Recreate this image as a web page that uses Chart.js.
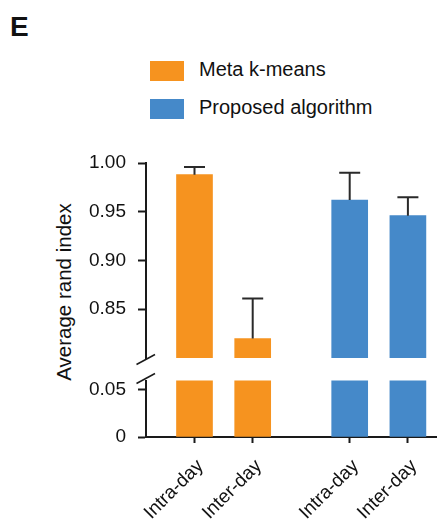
<!DOCTYPE html>
<html>
<head>
<meta charset="utf-8">
<script src="https://cdn.jsdelivr.net/npm/chart.js@4"></script>
<style>
  html, body { margin: 0; padding: 0; background: #fff; }
  #wrap { position: relative; width: 437px; height: 523px; overflow: hidden; font-family: "Liberation Sans", Arial, sans-serif; color: #111; }
  #wrap canvas { position: absolute; left: 0; top: 0; }
  .panel { position: absolute; left: 10px; top: 13px; font-size: 28px; line-height: 28px; font-weight: bold; }
  .legend-item { position: absolute; left: 150px; height: 20px; }
  .legend-item .sw { position: absolute; left: 0; width: 34px; height: 20px; }
  .legend-item .lbl { position: absolute; left: 49px; white-space: nowrap; font-size: 20px; line-height: 20px; }
  .ytitle { position: absolute; width: 240px; left: -56px; top: 281px; text-align: center; font-size: 20.5px; line-height: 22px; transform: rotate(-90deg); white-space: nowrap; }
</style>
</head>
<body>
<div id="wrap">
  <div class="panel">E</div>
  <div id="legend"></div>
  <div class="ytitle">Average rand index</div>
  <canvas id="top" width="437" height="523"></canvas>
  <canvas id="bottom" width="437" height="523"></canvas>
</div>
<script>
// data
const groups = ['Meta k-means', 'Proposed algorithm'];
const conditions = ['Intra-day', 'Inter-day'];
const metaMeans = [0.988, 0.820];
const metaErr = [0.008, 0.041];
const propMeans = [0.962, 0.946];
const propErr = [0.028, 0.019];
const topTicks = [0.85, 0.90, 0.95, 1.00];
const bottomTicks = [0, 0.05];

// layout
const colors = ['#F6931F', '#4589C9'];
const GROUP_STEP = 8, BAR_STEP = 3;
const AXIS_COLOR = '#1a1a1a';
const FONT = '"Liberation Sans", Arial, sans-serif';

const slot = (g, i) => g * GROUP_STEP + i * BAR_STEP;
const means = [metaMeans, propMeans];
const errs = [metaErr, propErr];
const xTicks = [];
groups.forEach((_, g) => conditions.forEach((c, i) => xTicks.push({ value: slot(g, i), label: c })));

// legend
document.getElementById('legend').innerHTML = groups.map((name, g) => `
  <div class="legend-item" style="top:${61 + g * 38}px">
    <div class="sw" style="background:${colors[g]}"></div>
    <div class="lbl" style="top:-2px">${name}</div>
  </div>`).join('');

function makeDatasets() {
  return groups.map((name, g) => ({
    label: name,
    data: means[g].map((v, i) => ({ x: slot(g, i), y: v })),
    backgroundColor: colors[g],
    borderWidth: 0,
    barThickness: 36,
  }));
}

const errorBars = {
  id: 'errorBars',
  afterDatasetsDraw(chart) {
    const ctx = chart.ctx;
    const y = chart.scales.y;
    ctx.save();
    ctx.strokeStyle = '#2a2a2a';
    ctx.lineWidth = 2;
    chart.data.datasets.forEach((ds, g) => {
      chart.getDatasetMeta(g).data.forEach((bar, i) => {
        const yTop = y.getPixelForValue(means[g][i] + errs[g][i]);
        ctx.beginPath();
        ctx.moveTo(bar.x, bar.y);
        ctx.lineTo(bar.x, yTop);
        ctx.moveTo(bar.x - 10.5, yTop);
        ctx.lineTo(bar.x + 10.5, yTop);
        ctx.stroke();
      });
    });
    ctx.restore();
  }
};

function breakMark(where) {
  return {
    id: 'breakMark',
    afterDraw(chart) {
      const { left, top, bottom } = chart.chartArea;
      const cy = where === 'bottom' ? bottom + 1.5 : top - 2;
      const ctx = chart.ctx;
      ctx.save();
      ctx.strokeStyle = AXIS_COLOR;
      ctx.lineWidth = 1.5;
      ctx.beginPath();
      ctx.moveTo(left - 9.5, cy + 5);
      ctx.lineTo(left + 9, cy - 5);
      ctx.stroke();
      ctx.restore();
    }
  };
}

function yScale(min, max, ticks, fmt) {
  return {
    type: 'linear',
    min, max,
    afterBuildTicks: s => { s.ticks = ticks.map(v => ({ value: v })); },
    afterFit: s => { s.width = 146; s.paddingTop = 0; s.paddingBottom = 0; },
    border: { display: true, color: AXIS_COLOR, width: 2 },
    grid: { drawOnChartArea: false, drawTicks: true, tickLength: 8, tickWidth: 2, tickColor: AXIS_COLOR },
    ticks: { color: '#111', padding: 12, font: { family: FONT, size: 19 }, callback: fmt },
  };
}

function xScale(show) {
  return {
    type: 'linear',
    min: -2.5, max: 12.5,
    offset: false,
    display: show,
    afterBuildTicks: s => { s.ticks = xTicks.map(t => ({ value: t.value })); },
    afterFit: s => { s.height = show ? 86 : 0; s.paddingLeft = 0; s.paddingRight = 0; },
    border: { display: true, color: AXIS_COLOR, width: 2 },
    grid: { offset: false, drawOnChartArea: false, drawTicks: true, tickLength: 6, tickWidth: 2, tickColor: AXIS_COLOR },
    ticks: {
      color: '#111', padding: 12, labelOffset: 6, autoSkip: false, minRotation: 45, maxRotation: 45,
      font: { family: FONT, size: 19 },
      callback: v => (xTicks.find(t => t.value === v) || {}).label || '',
    },
  };
}

const common = {
  responsive: false,
  animation: false,
  grouped: false,
  plugins: { legend: { display: false }, tooltip: { enabled: false } },
};

new Chart(document.getElementById('top'), {
  type: 'bar',
  data: { datasets: makeDatasets() },
  options: {
    ...common,
    layout: { padding: { top: 163, bottom: 165, left: 0, right: 0 } },
    scales: {
      x: xScale(false),
      y: yScale(0.80, 1.00, topTicks, v => v.toFixed(2)),
    },
  },
  plugins: [errorBars, breakMark('bottom')],
});

new Chart(document.getElementById('bottom'), {
  type: 'bar',
  data: { datasets: makeDatasets() },
  options: {
    ...common,
    layout: { padding: { top: 380.5, bottom: 0, left: 0, right: 0 } },
    scales: {
      x: xScale(true),
      y: yScale(0, 0.06, bottomTicks, v => (v === 0 ? '0' : v.toFixed(2))),
    },
  },
  plugins: [breakMark('top')],
});
</script>
</body>
</html>
